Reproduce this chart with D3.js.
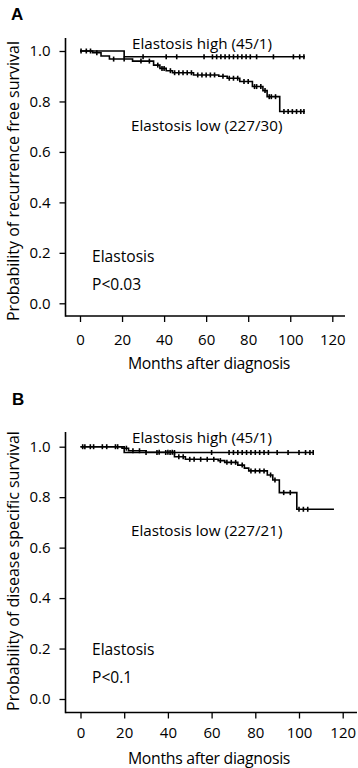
<!DOCTYPE html>
<html>
<head>
<meta charset="utf-8">
<script src="https://cdn.jsdelivr.net/npm/d3@7"></script>
<style>
  html, body { margin: 0; padding: 0; background: #fff; }
  svg { display: block; }
  text { font-family: "Open Sans", "Noto Sans", sans-serif; fill: #000; font-weight: 500; }
</style>
</head>
<body>
<svg id="chart" width="358" height="768"></svg>
<script>
// ---------------- DATA ----------------
const xTicks = [0, 20, 40, 60, 80, 100, 120];
const yTicks = [0.0, 0.2, 0.4, 0.6, 0.8, 1.0];

// Panel A – recurrence free survival
const aHighTimes = [0, 21, 107];
const aHighSurv  = [1.0, 0.977, 0.977];
const aHighCens  = [0.5, 5, 30, 41, 46, 59, 63, 65, 67, 69, 71, 73, 75, 77, 79, 81, 84, 92, 101.5, 104.5, 106.5];

const aLowTimes = [0, 6, 10, 14, 25, 35, 38, 41, 44, 54, 66, 70, 76, 82, 87, 89, 95, 107];
const aLowSurv  = [1.0, 0.993, 0.98, 0.968, 0.96, 0.944, 0.931, 0.922, 0.914, 0.905, 0.9, 0.892, 0.879, 0.859, 0.843, 0.819, 0.76, 0.76];
const aLowCens  = [3, 8, 16, 21, 29, 33, 37, 39, 40, 43, 45, 47, 49, 51, 53, 56, 58, 60, 62, 64, 68, 71, 73, 75, 78, 80, 83, 84, 86, 88, 90, 91, 93, 97, 99, 101, 103, 105, 106.5];

// Panel B – disease specific survival
const bHighTimes = [0, 20, 106.5];
const bHighSurv  = [1.0, 0.977, 0.977];
const bHighCens  = [1, 4.5, 10, 16, 30, 35, 39, 41, 43, 60, 68, 70, 72, 74, 76, 78, 80, 82, 84, 86, 90, 95, 100, 103, 105, 106.5];

const bLowTimes = [0, 19, 22, 30, 43, 48, 63, 66, 72, 75, 77, 85.5, 88, 91, 99, 116];
const bLowSurv  = [1.0, 0.994, 0.984, 0.978, 0.96, 0.95, 0.945, 0.938, 0.927, 0.915, 0.904, 0.888, 0.868, 0.818, 0.752, 0.752];
const bLowCens  = [2, 6, 12, 17, 21, 24, 27, 36, 40, 42, 45, 47, 50, 52, 55, 58, 61, 64, 67, 69, 71, 74, 78, 80, 82, 84, 87, 89, 93, 96, 100, 102, 104];

// ---------------- DRAW ----------------
const svg = d3.select("#chart");
const FONT = '"Open Sans", "Noto Sans", sans-serif';

function stepValue(times, surv, t) {
  let v = surv[0];
  for (let i = 0; i < times.length; i++) { if (times[i] <= t) v = surv[i]; }
  return v;
}

function panel(cfg) {
  const g = svg.append("g");
  const x = d3.scaleLinear().domain([0, 120]).range([cfg.x0, cfg.x120]);
  const y = d3.scaleLinear().domain([0, 1]).range([cfg.y0, cfg.y1]);

  // axes
  const yAxis = d3.axisLeft(y).tickValues(yTicks).tickFormat(d3.format(".1f")).tickSize(6).tickPadding(9);
  const ya = g.append("g").attr("transform", `translate(${cfg.axisX},0)`).call(yAxis);
  ya.select(".domain").remove();
  g.append("line").attr("x1", cfg.axisX).attr("x2", cfg.axisX)
    .attr("y1", cfg.axisTop).attr("y2", cfg.axisY + 0.75)
    .attr("stroke", "#000").attr("stroke-width", 1.6);

  const xAxis = d3.axisBottom(x).tickValues(xTicks).tickFormat(d3.format("d")).tickSize(6).tickPadding(cfg.xPad);
  const xa = g.append("g").attr("transform", `translate(0,${cfg.axisY})`).call(xAxis);
  xa.select(".domain").remove();
  g.append("line").attr("x1", cfg.axisX).attr("x2", cfg.axisRight)
    .attr("y1", cfg.axisY).attr("y2", cfg.axisY)
    .attr("stroke", "#000").attr("stroke-width", 1.6);

  [ya, xa].forEach(a => {
    a.selectAll(".tick line").attr("stroke", "#000").attr("stroke-width", 1.3);
    a.selectAll(".tick text").style("font-size", "15px").style("font-family", FONT)
      .style("font-weight", 500).attr("fill", "#000");
  });

  // curves
  const line = d3.line().curve(d3.curveStepAfter).x(d => x(d[0])).y(d => y(d[1]));
  cfg.curves.forEach(c => {
    const pts = c.times.map((t, i) => [t, c.surv[i]]);
    g.append("path").datum(pts).attr("d", line)
      .attr("fill", "none").attr("stroke", "#000").attr("stroke-width", 1.6);
    g.selectAll(null).data(c.cens).enter().append("line")
      .attr("x1", d => x(d)).attr("x2", d => x(d))
      .attr("y1", d => y(stepValue(c.times, c.surv, d)) - 2.5)
      .attr("y2", d => y(stepValue(c.times, c.surv, d)) + 2.5)
      .attr("stroke", "#000").attr("stroke-width", 1.6);
  });

  // texts
  const T = (xx, yy, s, size) => g.append("text").attr("x", xx).attr("y", yy)
    .style("font-size", size + "px").style("font-family", FONT).text(s);
  g.append("text").attr("x", cfg.labelX).attr("y", cfg.labelY)
    .style("font-size", "17px").style("font-weight", "bold").style("font-family", '"Liberation Sans", Arial, sans-serif')
    .text(cfg.label);
  T(132, cfg.highY, cfg.highText, 15.2);
  T(131, cfg.lowY, cfg.lowText, 15.2);
  T(92, cfg.ann1Y, "Elastosis", 15.6);
  T(92, cfg.ann2Y, cfg.pText, 15.6);
  T(209, cfg.xTitleY, "Months after diagnosis", 15.8).attr("text-anchor", "middle").style("letter-spacing", "-0.3px");
  g.append("text").attr("transform", `translate(${cfg.yTitleX},${cfg.yTitleC}) rotate(-90)`)
    .attr("text-anchor", "middle").style("font-size", "16px").style("font-family", FONT).text(cfg.yTitle);
}

panel({
  label: "A", labelX: 11, labelY: 20,
  x0: 80, x120: 332.3, y0: 303.3, y1: 51,
  axisX: 65.5, axisY: 316, axisTop: 38, axisRight: 345, xPad: 12,
  curves: [
    { times: aHighTimes, surv: aHighSurv, cens: aHighCens },
    { times: aLowTimes, surv: aLowSurv, cens: aLowCens }
  ],
  highText: "Elastosis high (45/1)", highY: 49,
  lowText: "Elastosis low (227/30)", lowY: 131,
  pText: "P<0.03", ann1Y: 262, ann2Y: 290,
  xTitleY: 369, yTitle: "Probability of recurrence free survival", yTitleX: 19, yTitleC: 181
});

panel({
  label: "B", labelX: 12, labelY: 405,
  x0: 80.5, x120: 342.7, y0: 699, y1: 446.7,
  axisX: 65.5, axisY: 712.5, axisTop: 432, axisRight: 357, xPad: 9,
  curves: [
    { times: bHighTimes, surv: bHighSurv, cens: bHighCens },
    { times: bLowTimes, surv: bLowSurv, cens: bLowCens }
  ],
  highText: "Elastosis high (45/1)", highY: 443,
  lowText: "Elastosis low (227/21)", lowY: 536,
  pText: "P<0.1", ann1Y: 655, ann2Y: 683,
  xTitleY: 764, yTitle: "Probability of disease specific survival", yTitleX: 19, yTitleC: 571
});
</script>
</body>
</html>
